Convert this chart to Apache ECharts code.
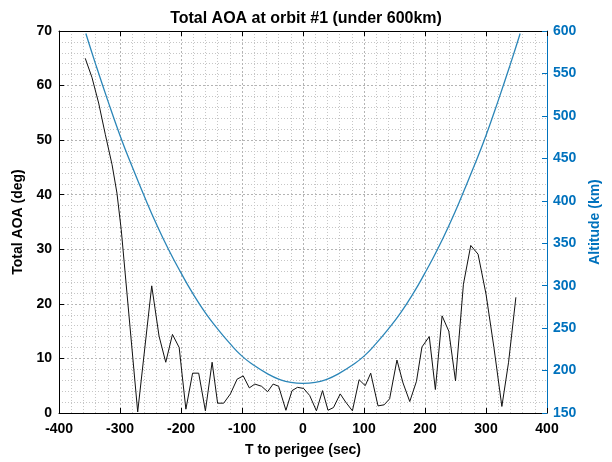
<!DOCTYPE html>
<html>
<head>
<meta charset="utf-8">
<script src="https://cdn.jsdelivr.net/npm/echarts@6/dist/echarts.min.js"></script>
<style>
  html, body { margin: 0; padding: 0; background: #fff; }
  #chart { width: 612px; height: 462px; }
</style>
</head>
<body>
<div id="chart"></div>
<script>
// Total angle of attack along the pass (seconds relative to perigee)
const aoaTime = [-357, -346, -335, -324, -313, -305, -298, -271, -248, -236, -225, -214, -203, -192,
  -181, -171, -160, -149, -140, -130, -119, -108, -98, -88, -79, -68, -58, -49, -40, -28, -18, -9,
  1, 11, 22, 32, 41, 50, 61, 70, 81, 92, 102, 111, 123, 133, 142, 154, 164, 175, 186, 195, 207,
  217, 228, 239, 250, 263, 275, 287, 300, 313, 326, 337, 349];
const aoaDeg = [65.0, 61.5, 56.8, 51.0, 45.5, 40.3, 33.6, 0.2, 23.3, 14.1, 9.3, 14.4, 12.0, 0.7,
  7.3, 7.3, 0.4, 9.3, 1.8, 1.8, 3.5, 6.2, 6.8, 4.6, 5.3, 4.9, 3.9, 5.3, 4.9, 0.5, 4.1, 4.7,
  4.5, 3.2, 0.4, 4.1, 0.5, 1.0, 3.5, 2.0, 0.4, 6.1, 5.0, 7.3, 1.3, 1.5, 2.6, 9.7, 5.5, 2.1, 5.8, 12.1, 14.0,
  4.3, 17.8, 15.0, 5.9, 23.6, 30.7, 29.1, 21.8, 12.0, 1.2, 9.3, 21.2];

// Altitude over the same pass
const altTime = [-356, -340, -320, -300, -280, -260, -240, -220, -200, -180, -160, -140, -120, -100,
  -80, -60, -40, -20, 0, 20, 40, 60, 80, 100, 120, 140, 160, 180, 200, 220, 240, 260, 280, 300,
  320, 340, 356];
const altKm = [597, 561, 518, 477, 440, 405, 372, 342, 315, 290, 268, 249, 232, 217,
  206, 197, 190, 186, 185, 186, 190, 197, 206, 217, 232, 249, 268, 290, 315, 342, 372, 405, 440, 477,
  518, 561, 597];

// Axis ranges and tick steps
const xRange = [-400, 400], xStep = 100;
const aoaRange = [0, 70], aoaStep = 10;
const altRange = [150, 600], altStep = 50;

const chartTitle = 'Total AOA at orbit #1 (under 600km)';
const xName = 'T to perigee (sec)';
const aoaName = 'Total AOA (deg)';
const altName = 'Altitude (km)';

const FONT = 'Liberation Sans, Arial, Helvetica, sans-serif';
const BLUE = '#0072BD';
const LINE_BLUE = '#2b86b8';

const zip = (a, b) => a.map((v, i) => [v, b[i]]);

const majorGrid = { show: true, lineStyle: { color: '#b4b4b4', width: 1, type: [2, 2] } };
const minorGrid = { show: true, lineStyle: { color: '#c6c6c6', width: 1, type: [1, 2] } };
const tickText = { color: '#000', fontFamily: FONT, fontSize: 14, fontWeight: 'bold' };
const nameText = { color: '#000', fontFamily: FONT, fontSize: 14, fontWeight: 'bold' };

const chart = echarts.init(document.getElementById('chart'), null, { renderer: 'canvas' });
chart.setOption({
  animation: false,
  backgroundColor: '#fff',
  title: {
    text: chartTitle,
    left: 'center',
    top: 6,
    textStyle: { color: '#000', fontFamily: FONT, fontSize: 16, fontWeight: 'bold' }
  },
  grid: { left: 59, right: 65, top: 31, bottom: 48, containLabel: false },
  xAxis: [
    {
      type: 'value', position: 'bottom', min: xRange[0], max: xRange[1], interval: xStep,
      name: xName, nameLocation: 'middle', nameGap: 30,
      nameTextStyle: nameText,
      axisLine: { show: true, onZero: false, lineStyle: { color: '#000', width: 1 } },
      axisTick: { show: true, inside: true, length: 5, lineStyle: { color: '#000' } },
      axisLabel: Object.assign({ margin: 9 }, tickText),
      minorTick: { show: false, splitNumber: 5 },
      splitLine: majorGrid,
      minorSplitLine: minorGrid
    },
    {
      type: 'value', position: 'top', min: xRange[0], max: xRange[1], interval: xStep,
      axisLine: { show: true, onZero: false, lineStyle: { color: '#000', width: 1 } },
      axisTick: { show: true, inside: true, length: 5, lineStyle: { color: '#000' } },
      axisLabel: { show: false },
      splitLine: { show: false }
    }
  ],
  yAxis: [
    {
      type: 'value', position: 'left', min: aoaRange[0], max: aoaRange[1], interval: aoaStep,
      name: aoaName, nameLocation: 'middle', nameGap: 29, nameRotate: 90,
      nameTextStyle: nameText,
      axisLine: { show: true, onZero: false, lineStyle: { color: '#000', width: 1 } },
      axisTick: { show: true, inside: true, length: 5, lineStyle: { color: '#000' } },
      axisLabel: Object.assign({ margin: 7 }, tickText),
      minorTick: { show: false, splitNumber: 5 },
      splitLine: majorGrid,
      minorSplitLine: minorGrid
    },
    {
      type: 'value', position: 'right', min: altRange[0], max: altRange[1], interval: altStep,
      name: altName, nameLocation: 'middle', nameGap: 41, nameRotate: 90,
      nameTextStyle: Object.assign({}, nameText, { color: BLUE }),
      axisLine: { show: true, onZero: false, lineStyle: { color: BLUE, width: 1 } },
      axisTick: { show: true, inside: true, length: 5, lineStyle: { color: BLUE } },
      axisLabel: Object.assign({ margin: 6 }, tickText, { color: BLUE }),
      splitLine: { show: false }
    }
  ],
  series: [
    {
      name: aoaName, type: 'line', xAxisIndex: 0, yAxisIndex: 0,
      data: zip(aoaTime, aoaDeg), showSymbol: false, smooth: false,
      lineStyle: { color: '#111', width: 1 }, z: 3
    },
    {
      name: altName, type: 'line', xAxisIndex: 0, yAxisIndex: 1,
      data: zip(altTime, altKm), showSymbol: false, smooth: true,
      lineStyle: { color: LINE_BLUE, width: 1.3 }, z: 2
    }
  ]
});
</script>
</body>
</html>
